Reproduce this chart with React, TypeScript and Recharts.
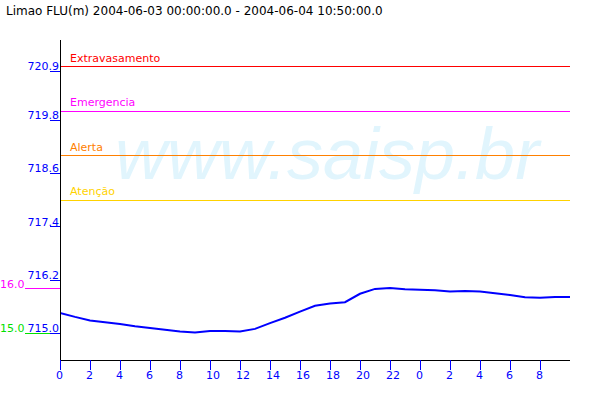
import React from 'react';
import {LineChart, Line, XAxis, YAxis, ReferenceLine} from 'recharts';

// hours since 2004-06-03 00:00
const hours = [0, 1, 2, 3, 4, 5, 6, 7, 8, 9, 10, 11, 12, 13, 14, 15, 16, 17, 18, 19, 20, 21, 22, 23, 24, 25, 26, 27, 28, 29, 30, 31, 32, 33, 34];
const levels = [715.46, 715.37, 715.29, 715.25, 715.21, 715.16, 715.12, 715.08, 715.04, 715.02, 715.05, 715.05, 715.04, 715.10, 715.23, 715.35, 715.49, 715.62, 715.67, 715.70, 715.89, 716.00, 716.02, 715.99, 715.98, 715.97, 715.94, 715.95, 715.94, 715.90, 715.86, 715.81, 715.80, 715.82, 715.82];

const xTicks = [0, 2, 4, 6, 8, 10, 12, 14, 16, 18, 20, 22, 24, 26, 28, 30, 32];
const xTickLabels = ['0', '2', '4', '6', '8', '10', '12', '14', '16', '18', '20', '22', '0', '2', '4', '6', '8'];

const yTicks = [715.0, 716.2, 717.4, 718.6, 719.8, 720.9];
const yTickLabels = ['715.0', '716.2', '717.4', '718.6', '719.8', '720.9'];

// régua marks drawn on the left of the axis
const reguaTicks = [715, 716];
const reguaLabels = ['15.0', '16.0'];
const reguaColors = ['#00e000', '#ff00ff'];

const thresholdNames = ['Extravasamento', 'Emergencia', 'Alerta', 'Atenção'];
const thresholdValues = [721.0, 720.0, 719.0, 718.0];
const thresholdColors = ['#ff0000', '#ff00ff', '#ff8000', '#ffd200'];

const data = hours.map((h, i) => ({h, nivel: levels[i]}));
const allYTicks = Array.from(new Set([...reguaTicks, ...yTicks])).sort((a, b) => a - b);

const FONT = '"DejaVu Sans", sans-serif';

const XTick = (props: any) => {
    const {x, y, payload} = props;
    const i = xTicks.indexOf(payload.value);
    return (
        <g>
            <line x1={x} y1={y} x2={x} y2={y + 10} stroke="#0000ff" shapeRendering="crispEdges"/>
            <text x={x - 4} y={y + 19} fill="#0000ff" fontSize={11} fontFamily={FONT}>{xTickLabels[i]}</text>
        </g>
    );
};

const YTick = (props: any) => {
    const {x, y, payload} = props;
    const r = reguaTicks.indexOf(payload.value);
    const i = yTicks.indexOf(payload.value);
    return (
        <g>
            {r >= 0 && (
                <g>
                    <line x1={x - 35} y1={y} x2={x} y2={y} stroke={reguaColors[r]} shapeRendering="crispEdges"/>
                    <text x={x - 60} y={y - 1} fill={reguaColors[r]} fontSize={11} fontFamily={FONT}>{reguaLabels[r]}</text>
                </g>
            )}
            {i >= 0 && (
                <g>
                    <line x1={x - 10} y1={y} x2={x} y2={y} stroke="#0000ff" shapeRendering="crispEdges"/>
                    <text x={x - 1} y={y - 1} textAnchor="end" fill="#0000ff" fontSize={11} fontFamily={FONT}>{yTickLabels[i]}</text>
                </g>
            )}
        </g>
    );
};

const thresholdLabel = (name: string, color: string) => (props: any) => {
    const vb = props.viewBox;
    return (
        <text x={vb.x + 10} y={vb.y - 5} fill={color} fontSize={11} fontFamily={FONT}>{name}</text>
    );
};

export default function App() {
    return (
        <div style={{position: 'absolute', left: 0, top: 0, width: 600, height: 400, background: '#fff'}}>
            <div style={{position: 'absolute', left: 6, top: 4, fontFamily: FONT, fontSize: 12, lineHeight: '14px', color: '#000', whiteSpace: 'nowrap'}}>
                Limao FLU(m) 2004-06-03 00:00:00.0 - 2004-06-04 10:50:00.0
            </div>
            <div style={{position: 'absolute', left: 115, top: 118, fontFamily: '"Liberation Sans", sans-serif', fontStyle: 'italic', fontSize: 72, lineHeight: '72px', color: '#e1f5fd', whiteSpace: 'nowrap'}}>
                www.saisp.br
            </div>
            <div style={{position: 'absolute', left: 0, top: 0}}>
                <LineChart width={600} height={400} data={data} margin={{top: 40, right: 30, left: 0, bottom: 0}}>
                    <XAxis dataKey="h" type="number" domain={[0, 34]} ticks={xTicks} interval={0}
                           tick={<XTick/>} tickLine={false} tickSize={0} tickMargin={0} height={40}
                           axisLine={{stroke: '#000', shapeRendering: 'crispEdges'}} allowDataOverflow/>
                    <YAxis type="number" domain={[714.4, 721.6]} ticks={allYTicks} interval={0}
                           tick={<YTick/>} tickLine={false} tickSize={0} tickMargin={0} width={60}
                           axisLine={{stroke: '#000', shapeRendering: 'crispEdges'}} allowDataOverflow/>
                    {thresholdValues.map((v, i) => (
                        <ReferenceLine key={thresholdNames[i]} y={v} stroke={thresholdColors[i]}
                                       shapeRendering="crispEdges"
                                       label={thresholdLabel(thresholdNames[i], thresholdColors[i])}/>
                    ))}
                    <Line type="linear" dataKey="nivel" stroke="#0000ff" strokeWidth={2} dot={false}
                          isAnimationActive={false}/>
                </LineChart>
            </div>
        </div>
    );
}
